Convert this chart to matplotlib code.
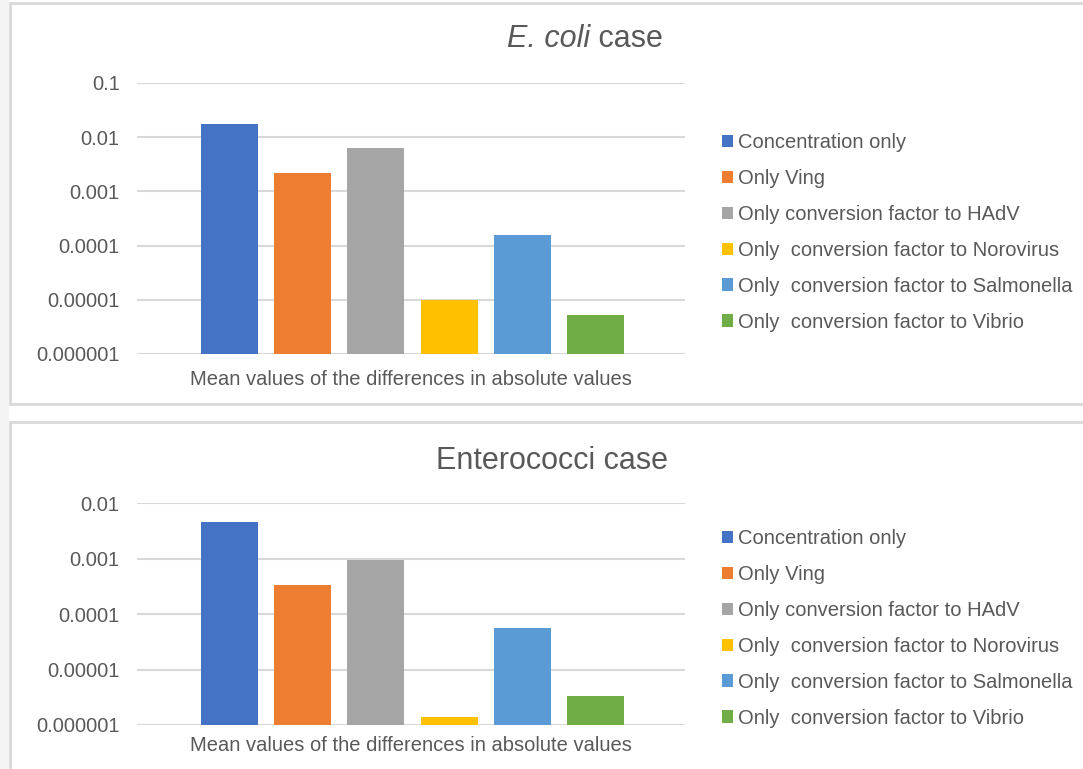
import numpy as np
import matplotlib
matplotlib.use("Agg")
import matplotlib.pyplot as plt
from matplotlib.patches import Rectangle

plt.rcParams['font.family'] = ['Liberation Sans', 'DejaVu Sans']

# series names and colours (one bar per series)
labels = ['Concentration only', 'Only Ving', 'Only conversion factor to HAdV',
          'Only  conversion factor to Norovirus', 'Only  conversion factor to Salmonella',
          'Only  conversion factor to Vibrio']
colors = ['#4472C4', '#ED7D31', '#A5A5A5', '#FFC000', '#5B9BD5', '#70AD47']

# mean values of the differences in absolute values
ecoli_vals = [0.0175, 0.0022, 0.0063, 0.0000098, 0.00016, 0.0000052]
entero_vals = [0.0046, 0.00033, 0.00094, 0.0000014, 0.000056, 0.0000033]

ecoli_ticks = [0.000001, 0.00001, 0.0001, 0.001, 0.01, 0.1]
entero_ticks = [0.000001, 0.00001, 0.0001, 0.001, 0.01]
tick_text = {0.000001: '0.000001', 0.00001: '0.00001', 0.0001: '0.0001',
             0.001: '0.001', 0.01: '0.01', 0.1: '0.1'}

xlabel = 'Mean values of the differences in absolute values'
txt = '#595959'

W, H = 1083, 769
fig = plt.figure(figsize=(W / 100, H / 100), dpi=100)
fig.patch.set_facecolor('white')

# light strip at the left and the two chart frames (behind the axes)
fig.patches.append(Rectangle((0, 0), 9 / W, 1, transform=fig.transFigure,
                             facecolor='#f4f4f4', edgecolor='none', zorder=-10))
for (y0, y1) in [(3, 404), (422, 790)]:
    fig.patches.append(Rectangle((10 / W, 1 - y1 / H), (W + 20 - 10) / W, (y1 - y0) / H,
                                 transform=fig.transFigure, facecolor='white',
                                 edgecolor='#d9d9d9', linewidth=2, zorder=-10))


def px_axes(left, right, top, bottom):
    return fig.add_axes([left / W, 1 - bottom / H, (right - left) / W, (bottom - top) / H])


def draw_panel(ax, vals, ticks, title, title_x, title_y, leg_top, italic=False):
    x = np.arange(len(vals))
    bars = []
    for i, v in enumerate(vals):
        b = ax.bar(x[i], v - 1e-6, width=0.78, bottom=1e-6, color=colors[i],
                   label=labels[i], zorder=3)
        bars.append(b)
    ax.set_yscale('log')
    ax.set_ylim(ticks[0], ticks[-1])
    ax.set_xlim(-1.26, 6.22)
    ax.set_yticks(ticks)
    ax.set_yticklabels([tick_text[t] for t in ticks])
    ax.yaxis.set_minor_locator(matplotlib.ticker.NullLocator())
    ax.set_xticks([])
    ax.tick_params(axis='y', length=0, pad=12.5, labelsize=14.5, labelcolor=txt)
    ax.grid(axis='y', color='#d9d9d9', linewidth=1.5, zorder=0)
    ax.set_axisbelow(True)
    for s in ax.spines.values():
        s.set_visible(False)
    ax.set_facecolor('none')
    ax.text(0.5, -0.094, xlabel, transform=ax.transAxes, ha='center', va='center',
            fontsize=14.5, color=txt)

    if italic:
        fig.text(title_x / W, 1 - title_y / H, 'E. coli', ha='right', va='center',
                 fontsize=22, color=txt, style='italic')
        fig.text(title_x / W, 1 - title_y / H, ' case', ha='left', va='center',
                 fontsize=22, color=txt)
    else:
        fig.text(title_x / W, 1 - title_y / H, title, ha='center', va='center',
                 fontsize=22, color=txt)

    leg = ax.legend(handles=bars, labels=labels, loc='upper left', frameon=False,
                    bbox_to_anchor=(722 / W, 1 - leg_top / H), bbox_transform=fig.transFigure,
                    fontsize=14.5, handlelength=0.55, handleheight=0.55, handletextpad=0.25,
                    labelspacing=0.84, borderaxespad=0, borderpad=0)
    for t in leg.get_texts():
        t.set_color(txt)


ax1 = px_axes(137, 685, 83, 354)
draw_panel(ax1, ecoli_vals, ecoli_ticks, 'E. coli case', 590, 39, 133, italic=True)

ax2 = px_axes(137, 685, 503, 725)
draw_panel(ax2, entero_vals, entero_ticks, 'Enterococci case', 552, 461, 529)

fig.savefig('out.png', dpi=100, facecolor=fig.get_facecolor())
